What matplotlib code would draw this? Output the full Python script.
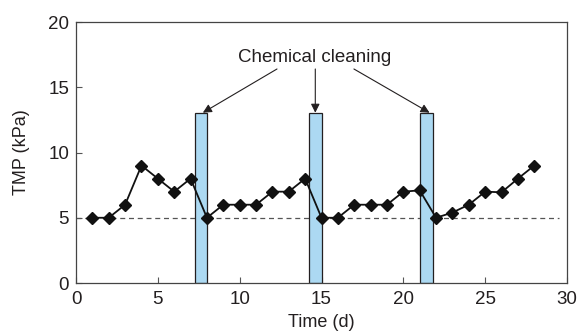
import matplotlib
matplotlib.use('Agg')
import matplotlib.pyplot as plt

# TMP readings (day, kPa)
days = [1, 2, 3, 4, 5, 6, 7, 8, 9, 10, 11, 12, 13, 14, 15, 16, 17, 18, 19, 20,
        21, 22, 23, 24, 25, 26, 27, 28]
tmp = [5, 5, 6, 9, 8, 7, 8, 5, 6, 6, 6, 7, 7, 8, 5, 5, 6, 6, 6, 7,
       7.1, 5, 5.4, 6, 7, 6.95, 8, 9]

# chemical cleaning periods (start day, end day)
clean_start = [7.25, 14.25, 21.0]
clean_end = [8.0, 15.0, 21.8]
clean_height = 13
baseline = 5

plt.rcParams['font.family'] = ['Liberation Sans', 'DejaVu Sans']
txt = '#231f20'

fig = plt.figure(figsize=(5.78, 3.31), dpi=100)
ax = fig.add_axes([0.1315, 0.145, 0.8495, 0.7885])

for s, e in zip(clean_start, clean_end):
    ax.bar(s, clean_height, width=e - s, align='edge', color='#acd9f2',
           edgecolor='#231f20', linewidth=0.9, zorder=2)

ax.plot([0, 29.5], [baseline, baseline], ls=(0, (4, 3)), color='#555555', lw=0.9, zorder=1)
ax.plot(days, tmp, color='#111111', lw=1.3, marker='D', ms=6, zorder=3)

ax.text(14.6, 17.3, 'Chemical cleaning', ha='center', va='center', fontsize=13.5, color=txt)
arrow = dict(arrowstyle='-|>', color='#231f20', lw=0.8, mutation_scale=13, shrinkA=0, shrinkB=0)
ax.annotate('', xy=(7.75, 13.05), xytext=(12.28, 16.4), arrowprops=arrow)
ax.annotate('', xy=(14.62, 13.05), xytext=(14.62, 16.4), arrowprops=arrow)
ax.annotate('', xy=(21.6, 13.05), xytext=(16.98, 16.4), arrowprops=arrow)

ax.set_xlim(0, 30)
ax.set_ylim(0, 20)
ax.set_xticks(range(0, 31, 5))
ax.set_yticks(range(0, 21, 5))
ax.tick_params(direction='in', length=4, labelsize=13.5, colors='#555555', labelcolor=txt)
ax.tick_params(axis='x', pad=6)
ax.tick_params(axis='y', pad=5)
for sp in ax.spines.values():
    sp.set_color('#444444')
    sp.set_linewidth(0.9)
ax.set_xlabel('Time (d)', fontsize=13, color=txt, labelpad=4)
ax.set_ylabel('TMP (kPa)', fontsize=13, color=txt, labelpad=13)

fig.savefig('out.png', dpi=100)
